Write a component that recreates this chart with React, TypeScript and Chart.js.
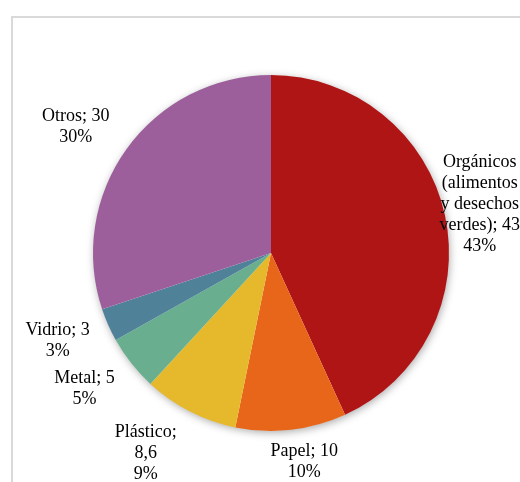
import React, { useEffect, useRef } from "react";
import { Chart, registerables } from "chart.js";

Chart.register(...registerables);

const categories = [
  "Orgánicos (alimentos y desechos verdes)",
  "Papel",
  "Plástico",
  "Metal",
  "Vidrio",
  "Otros",
];
const values = [43, 10, 8.6, 5, 3, 30];
const colors = ["#B01516", "#E8661A", "#E6B82B", "#68AE8F", "#4F8199", "#9C5F9B"];

// label layout nudges (px) relative to the generic radial position
const labelNudges = [
  [0, -3],
  [9, -3],
  [-28, 10],
  [-19, 3],
  [-18, 1.5],
  [-22, -1],
];

const FONT = '18px "Liberation Serif", "Times New Roman", serif';

function wrap(ctx: CanvasRenderingContext2D, text: string, maxW: number): string[] {
  const words = text.split(" ");
  const lines: string[] = [];
  let cur = "";
  for (const w of words) {
    const test = cur ? cur + " " + w : w;
    if (cur && ctx.measureText(test).width > maxW) {
      lines.push(cur);
      cur = w;
    } else {
      cur = test;
    }
  }
  if (cur) lines.push(cur);
  return lines;
}

const shadowPlugin = {
  id: "pieShadow",
  beforeDatasetsDraw(chart: any) {
    const meta = chart.getDatasetMeta(0);
    const arc = meta.data[0];
    if (!arc) return;
    const { x, y, outerRadius } = arc.getProps(["x", "y", "outerRadius"], true);
    const ctx = chart.ctx;
    ctx.save();
    ctx.shadowColor = "rgba(0,0,0,0.35)";
    ctx.shadowBlur = 9;
    ctx.shadowOffsetX = 1;
    ctx.shadowOffsetY = 2;
    ctx.fillStyle = "#ffffff";
    ctx.beginPath();
    ctx.arc(x, y, outerRadius - 0.5, 0, Math.PI * 2);
    ctx.fill();
    ctx.restore();
  },
};

const labelPlugin = {
  id: "pieLabels",
  afterDatasetsDraw(chart: any) {
    const ctx = chart.ctx;
    const meta = chart.getDatasetMeta(0);
    const total = values.reduce((a, b) => a + b, 0);
    ctx.save();
    ctx.font = FONT;
    ctx.fillStyle = "#000000";
    ctx.textAlign = "center";
    ctx.textBaseline = "middle";
    meta.data.forEach((arc: any, i: number) => {
      const { x, y, startAngle, endAngle, outerRadius } = arc.getProps(
        ["x", "y", "startAngle", "endAngle", "outerRadius"],
        true
      );
      const mid = (startAngle + endAngle) / 2;
      const d = outerRadius * 1.2;
      const cx = x + d * Math.cos(mid) + labelNudges[i][0];
      const cy = y + d * Math.sin(mid) + labelNudges[i][1];
      const valStr = String(values[i]).replace(".", ",");
      const pct = Math.round((values[i] / total) * 100) + "%";
      const lines = wrap(ctx, categories[i] + "; " + valStr, 85);
      lines.push(pct);
      const lh = 21;
      const top = cy - ((lines.length - 1) * lh) / 2;
      lines.forEach((ln, k) => ctx.fillText(ln, cx, top + k * lh));
    });
    ctx.restore();
  },
};

export default function App() {
  const ref = useRef<HTMLCanvasElement>(null);
  useEffect(() => {
    if (!ref.current) return;
    const chart = new Chart(ref.current, {
      type: "pie",
      data: {
        labels: categories,
        datasets: [
          {
            data: values,
            backgroundColor: colors,
            borderWidth: 0,
          },
        ],
      },
      options: {
        responsive: false,
        animation: false,
        layout: { padding: { left: 93, right: 71, top: 75, bottom: 51 } },
        plugins: {
          legend: { display: false },
          tooltip: { enabled: false },
          title: { display: false },
        },
      },
      plugins: [shadowPlugin, labelPlugin],
    });
    return () => chart.destroy();
  }, []);

  return (
    <div
      style={{
        position: "fixed",
        left: 0,
        top: 0,
        width: 520,
        height: 482,
        overflow: "hidden",
        background: "#ffffff",
      }}
    >
      <div
        style={{
          position: "absolute",
          left: 11,
          top: 16,
          width: 700,
          height: 700,
          borderLeft: "2px solid #d9d9d9",
          borderTop: "2px solid #d9d9d9",
        }}
      />
      <canvas
        ref={ref}
        width={520}
        height={482}
        style={{ position: "absolute", left: 0, top: 0 }}
      />
    </div>
  );
}
